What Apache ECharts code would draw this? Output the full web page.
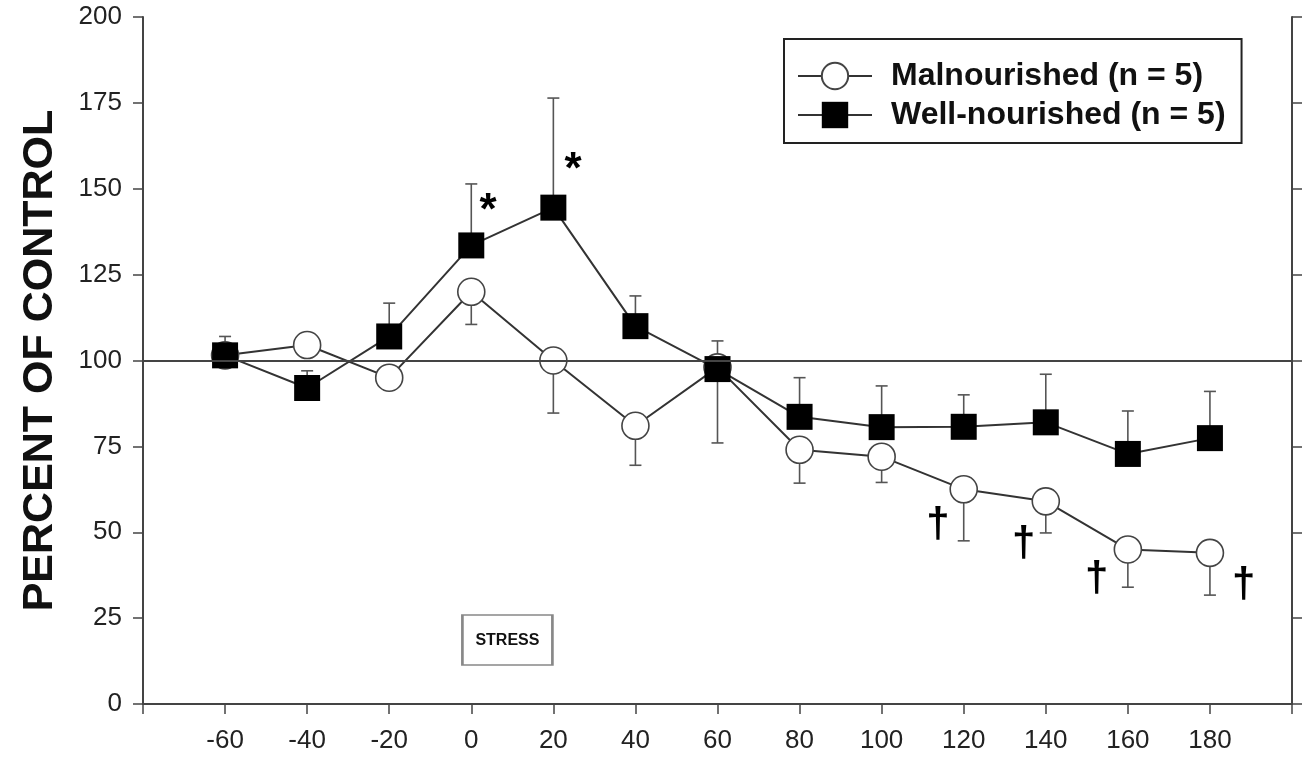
<!DOCTYPE html>
<html>
<head>
<meta charset="utf-8">
<script src="https://cdn.jsdelivr.net/npm/echarts@6/dist/echarts.min.js"></script>
<style>
html,body{margin:0;padding:0;background:#fff;}
#c{width:1309px;height:759px;}
</style>
</head>
<body>
<div id="c"></div>
<script>
// ---- data ----
const times = [-60, -40, -20, 0, 20, 40, 60, 80, 100, 120, 140, 160, 180];
const malMean  = [101.5, 104.5, 95, 120, 100, 81, 98, 74, 72, 62.5, 59, 45, 44];
const malLower = [null, null, null, 110.5, 84.7, 69.5, 76, 64.3, 64.5, 47.5, 49.8, 34, 31.7];
const wellMean  = [101.5, 92, 107, 133.5, 144.5, 110, 97.5, 83.6, 80.6, 80.7, 82, 72.8, 77.4];
const wellUpper = [107, 97, 116.7, 151.4, 176.4, 118.8, 105.7, 95, 92.6, 90, 96, 85.3, 91];
const xTickLabels = [-60, -40, -20, 0, 20, 40, 60, 80, 100, 120, 140, 160, 180];
const yTickLabels = [0, 25, 50, 75, 100, 125, 150, 175, 200];
const seriesNames = ['Malnourished (n = 5)', 'Well-nourished (n = 5)'];
const yTitle = 'PERCENT OF CONTROL';
const controlLevel = 100;
const stressNote = {x: 8.8, y: 18.6, text: 'STRESS'};
const stars = [{x: 4.1, y: 143.3, text: '*'}, {x: 24.8, y: 155.1, text: '*'}];
const daggers = [{x: 113.7, y: 52, text: '†'}, {x: 134.6, y: 46.6, text: '†'}, {x: 152.4, y: 36.3, text: '†'}, {x: 188.2, y: 34.5, text: '†'}];

// ---- build ----
const malPts = times.map((t, i) => [t, malMean[i]]);
const wellPts = times.map((t, i) => [t, wellMean[i]]);
const malErr = times.map((t, i) => [t, malMean[i], malLower[i]]).filter(d => d[2] != null);
const wellErr = times.map((t, i) => [t, wellMean[i], wellUpper[i]]).filter(d => d[2] != null);

function errRender(params, api) {
  const x = api.value(0), y = api.value(1), e = api.value(2);
  const p0 = api.coord([x, y]);
  const p1 = api.coord([x, e]);
  const cap = 6;
  const st = {stroke: '#555', lineWidth: 1.6};
  return {
    type: 'group',
    children: [
      {type: 'line', shape: {x1: p0[0], y1: p0[1], x2: p1[0], y2: p1[1]}, style: st},
      {type: 'line', shape: {x1: p1[0] - cap, y1: p1[1], x2: p1[0] + cap, y2: p1[1]}, style: st}
    ]
  };
}

const font = 'Liberation Sans, Arial, sans-serif';
const tickSetX = new Set(xTickLabels);
const tickSetY = new Set(yTickLabels);

const chart = echarts.init(document.getElementById('c'), null, {renderer: 'canvas'});
chart.setOption({
  backgroundColor: '#fff',
  animation: false,
  grid: {left: 143, right: 17, top: 17, bottom: 55, containLabel: false},
  legend: {
    data: seriesNames,
    orient: 'vertical',
    left: 784, top: 39,
    padding: [21, 16, 12, 13],
    itemGap: 7,
    itemWidth: 74, itemHeight: 33,
    borderColor: '#222', borderWidth: 2,
    backgroundColor: '#fff',
    textStyle: {fontFamily: font, fontSize: 32, fontWeight: 'bold', color: '#111', padding: [0, 0, 0, 14]}
  },
  xAxis: {
    type: 'value', min: -80, max: 200, interval: 20,
    axisLine: {show: true, onZero: false, lineStyle: {color: '#444', width: 2}},
    axisTick: {show: true, length: 10, lineStyle: {color: '#444', width: 1.5}},
    axisLabel: {
      margin: 24, fontFamily: font, fontSize: 26, color: '#222',
      formatter: v => tickSetX.has(v) ? String(v) : ''
    },
    splitLine: {show: false}
  },
  yAxis: [{
    type: 'value', min: 0, max: 200, interval: 25, position: 'left',
    name: yTitle, nameLocation: 'middle', nameRotate: 90, nameGap: 81,
    nameTextStyle: {fontFamily: font, fontSize: 43, fontWeight: 'bold', color: '#111'},
    axisLine: {show: true, onZero: false, lineStyle: {color: '#444', width: 2}},
    axisTick: {show: true, length: 10, lineStyle: {color: '#444', width: 1.5}},
    axisLabel: {margin: 21, fontFamily: font, fontSize: 26, color: '#222',
      formatter: v => tickSetY.has(v) ? String(v) : ''},
    splitLine: {show: false}
  }, {
    type: 'value', min: 0, max: 200, interval: 25, position: 'right',
    axisLine: {show: true, onZero: false, lineStyle: {color: '#444', width: 2}},
    axisTick: {show: true, length: 10, lineStyle: {color: '#444', width: 1.5}},
    axisLabel: {show: false},
    splitLine: {show: false}
  }],
  series: [
    {
      type: 'custom', name: 'malErr', renderItem: errRender, data: malErr,
      encode: {x: 0, y: [1, 2]}, z: 1, silent: true
    },
    {
      type: 'custom', name: 'wellErr', renderItem: errRender, data: wellErr,
      encode: {x: 0, y: [1, 2]}, z: 1, silent: true
    },
    {
      type: 'line', name: seriesNames[0], data: malPts, z: 3,
      symbol: 'circle', symbolSize: 27, showSymbol: true,
      lineStyle: {color: '#333', width: 2},
      itemStyle: {color: '#fff', borderColor: '#444', borderWidth: 1.6},
      markLine: {
        silent: true, symbol: 'none', label: {show: false},
        lineStyle: {color: '#444', width: 2, type: 'solid'},
        data: [{yAxis: controlLevel}]
      }
    },
    {
      type: 'line', name: seriesNames[1], data: wellPts, z: 4,
      symbol: 'rect', symbolSize: 26, showSymbol: true,
      lineStyle: {color: '#333', width: 2},
      itemStyle: {color: '#000', borderColor: '#000', borderWidth: 0}
    },
    {
      type: 'scatter', name: 'notes', data: [], z: 5, silent: true,
      markPoint: {
        silent: true,
        data: [
          {
            coord: [stressNote.x, stressNote.y], symbol: 'rect', symbolSize: [90, 50],
            itemStyle: {color: '#fff', borderColor: '#888', borderWidth: 2},
            label: {show: true, position: 'inside', formatter: stressNote.text,
              fontFamily: font, fontSize: 16, fontWeight: 'bold', color: '#111'}
          }
        ].concat(stars.concat(daggers).map(a => ({
          coord: [a.x, a.y], symbol: 'circle', symbolSize: 0,
          itemStyle: {color: 'transparent'},
          label: {show: true, position: 'inside', formatter: a.text,
            fontFamily: font, fontSize: a.text === '*' ? 44 : 42, fontWeight: 'bold', color: '#000'}
        })))
      }
    }
  ]
});
</script>
</body>
</html>
